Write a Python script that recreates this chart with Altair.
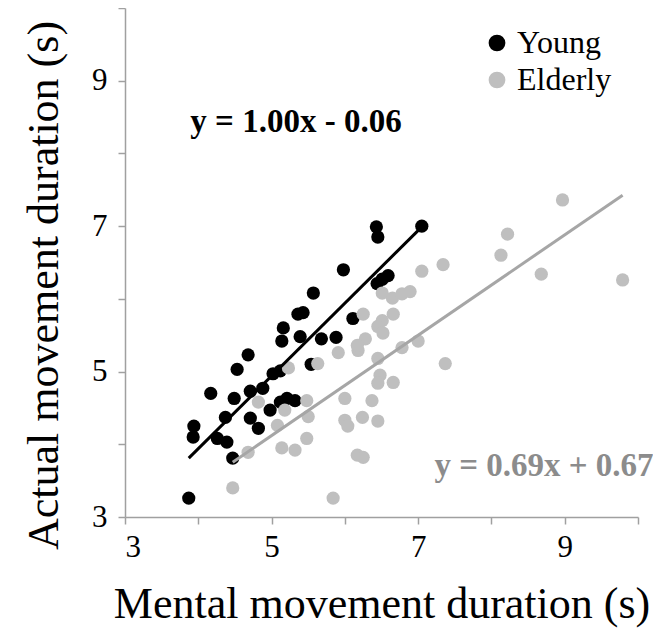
import altair as alt
import pandas as pd

# ---- data ----
young_x = [3.87, 3.94, 3.93, 4.17, 4.26, 4.39, 4.37, 4.47, 4.49, 4.53, 4.68, 4.71, 4.88,
           4.71, 4.82, 4.98, 5.02, 5.12, 5.14, 5.12, 5.21, 5.32, 5.16, 5.36, 5.43, 5.39,
           5.57, 5.54, 5.68, 5.88, 5.98, 6.11, 6.43, 6.45, 6.44, 6.51, 6.59, 7.05]
young_y = [3.26, 4.25, 4.10, 4.70, 4.08, 4.03, 4.37, 3.81, 4.63, 5.03, 5.23, 4.73, 4.77,
           4.36, 4.22, 4.47, 4.97, 5.01, 5.42, 4.58, 4.63, 4.60, 5.60, 5.79, 5.81, 5.48,
           6.08, 5.10, 5.45, 5.47, 6.40, 5.73, 6.99, 6.85, 6.21, 6.27, 6.32, 7.00]

elderly_x = [4.47, 4.68, 4.82, 5.08, 5.14, 5.18, 5.23, 5.32, 5.48, 5.50, 5.48, 5.63, 5.84,
             5.91, 6.00, 6.00, 6.04, 6.17, 6.25, 6.24, 6.18, 6.25, 6.28, 6.17, 6.37, 6.45,
             6.45, 6.48, 6.45, 6.66, 6.51, 6.65, 6.78, 6.89, 6.66, 6.51, 6.45, 6.52, 6.78,
             7.00, 7.05, 7.34, 7.37, 8.13, 8.22, 8.68, 8.97, 9.79]
elderly_y = [3.40, 3.89, 4.58, 4.26, 3.95, 4.47, 5.05, 3.92, 4.60, 4.38, 4.08, 5.11, 3.26,
             5.26, 4.63, 4.33, 4.25, 3.85, 3.82, 4.37, 5.29, 5.79, 5.45, 5.36, 4.60, 4.32,
             5.18, 4.95, 4.84, 4.85, 6.08, 6.01, 6.07, 6.10, 5.79, 5.70, 5.62, 5.53, 5.33,
             5.42, 6.38, 6.47, 5.11, 6.60, 6.89, 6.34, 7.36, 6.26]

groups = ["Young", "Elderly"]
slopes = [1.00, 0.69]
intercepts = [-0.06, 0.67]
equations = ["y = 1.00x - 0.06", "y = 0.69x + 0.67"]
x_title = "Mental movement duration (s)"
y_title = "Actual movement duration (s)"
tick_values = [3, 4, 5, 6, 7, 8, 9, 10]

# ---- tables ----
pts = pd.DataFrame({
    "x": young_x + elderly_x,
    "y": young_y + elderly_y,
    "group": ["Young"] * len(young_x) + ["Elderly"] * len(elderly_x),
})

line_rows = []
for g, xs_, a, b in zip(groups, [young_x, elderly_x], slopes, intercepts):
    for xv in (min(xs_), max(xs_)):
        line_rows.append({"x": xv, "y": a * xv + b, "group": g})
lines = pd.DataFrame(line_rows)

FONT = "Liberation Serif"
BLACK = "#000000"
GREY = "#bfbfbf"
LINE_GREY = "#a6a6a6"
AX_GREY = "#a0a0a0"

xs = alt.Scale(domain=[3, 10], nice=False, zero=False)
ys = alt.Scale(domain=[3, 10], nice=False, zero=False)
odd_only = "datum.value % 2 == 1 ? format(datum.value, 'd') : ''"


def make_axis(title, tpad, lpad, **extra):
    return alt.Axis(
        values=tick_values, labelExpr=odd_only, title=title,
        labelFont=FONT, labelFontSize=31, labelColor=BLACK, labelPadding=lpad,
        titleFont=FONT, titleFontSize=44, titleFontWeight="normal", titleColor=BLACK,
        titlePadding=tpad, grid=False,
        domainColor=AX_GREY, domainWidth=1.5, tickColor=AX_GREY, tickWidth=1.5, tickSize=7,
        **extra,
    )


x_enc = alt.X("x:Q", scale=xs, axis=make_axis(x_title, 20, 8))
y_enc = alt.Y("y:Q", scale=ys, axis=make_axis(y_title, 25, 11, titleY=277))
color_enc = alt.Color(
    "group:N",
    scale=alt.Scale(domain=groups, range=[BLACK, GREY]),
    legend=alt.Legend(
        title=None, orient="none", legendX=356, legendY=19,
        symbolType="circle", symbolSize=280, symbolStrokeWidth=0,
        labelFont=FONT, labelFontSize=32, labelColor=BLACK,
        rowPadding=5, labelOffset=4,
    ),
    sort=groups,
)

young_pts = alt.Chart(pts).transform_filter(alt.datum.group == "Young").mark_circle(
    size=175, opacity=1).encode(x=x_enc, y=y_enc, color=color_enc)
eld_pts = alt.Chart(pts).transform_filter(alt.datum.group == "Elderly").mark_circle(
    size=175, opacity=1).encode(x=x_enc, y=y_enc, color=color_enc)

young_line = alt.Chart(lines).transform_filter(alt.datum.group == "Young").mark_line(
    color=BLACK, strokeWidth=3).encode(x="x:Q", y="y:Q")
eld_line = alt.Chart(lines).transform_filter(alt.datum.group == "Elderly").mark_line(
    color=LINE_GREY, strokeWidth=3).encode(x="x:Q", y="y:Q")

eq1 = alt.Chart(pd.DataFrame({"t": [equations[0]]})).mark_text(
    font=FONT, fontSize=33, fontWeight="bold", color=BLACK, align="center", baseline="middle"
).encode(text="t:N", x=alt.value(171), y=alt.value(114))
eq2 = alt.Chart(pd.DataFrame({"t": [equations[1]]})).mark_text(
    font=FONT, fontSize=33, fontWeight="bold", color="#8c8c8c", align="center", baseline="middle"
).encode(text="t:N", x=alt.value(419), y=alt.value(458))

chart = alt.layer(young_pts, eld_pts, young_line, eld_line, eq1, eq2).properties(
    width=513, height=509,
    autosize=alt.AutoSizeParams(type="none"),
    padding={"left": 117, "top": 0, "right": 15, "bottom": 114},
).configure_view(stroke=None)

chart.save("out.html", embed_options={"renderer": "svg", "actions": False})
